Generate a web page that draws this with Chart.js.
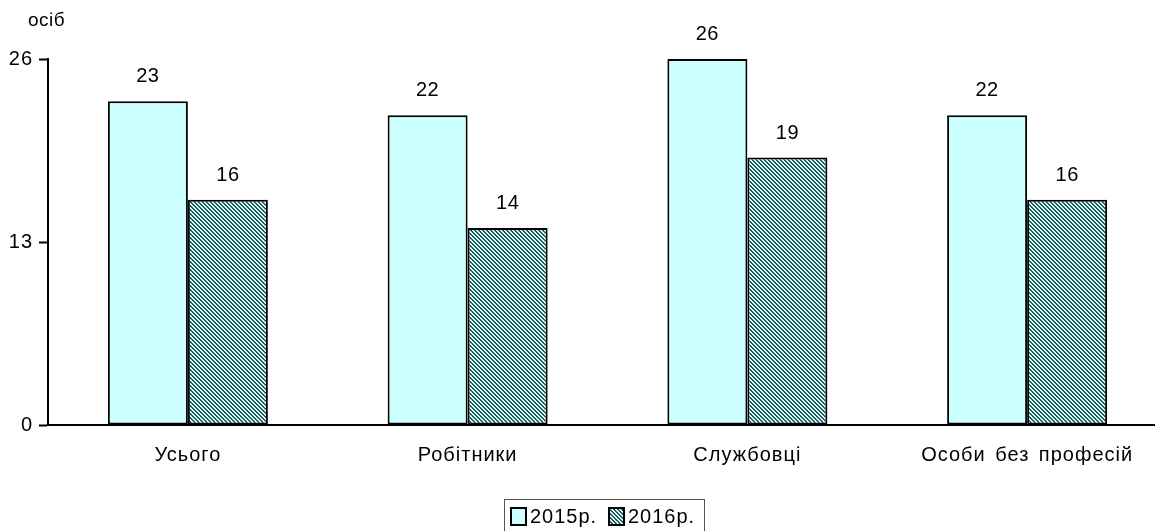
<!DOCTYPE html>
<html>
<head>
<meta charset="utf-8">
<script src="https://cdn.jsdelivr.net/npm/chart.js@4"></script>
<style>
  html, body { margin: 0; padding: 0; background: #fff; overflow: hidden; }
  #wrap { width: 1167px; height: 531px; position: relative; }
</style>
</head>
<body>
<div id="wrap"><canvas id="barChart"></canvas></div>
<script>
// chart data
const categories = ['Усього', 'Робітники', 'Службовці', 'Особи без професій'];
const seriesNames = ['2015р.', '2016р.'];
const values2015 = [23, 22, 26, 22];
const values2016 = [16, 14, 19, 16];
const yTicks = [0, 13, 26];

const FONT = '"Liberation Sans", Arial, sans-serif';

// hatched fill for the 2016 series (pixel pattern, like the old office charts)
function makeHatch() {
    const c = document.createElement('canvas');
    c.width = 4; c.height = 4;
    const g = c.getContext('2d');
    g.fillStyle = '#ccffff';
    g.fillRect(0, 0, 4, 4);
    g.fillStyle = '#2f5656';
    for (let i = 0; i < 4; i++) {
        g.fillRect(i, i, 1, 1);
        g.fillRect((i + 1) % 4, i, 1, 1);
    }
    return g.createPattern(c, 'repeat');
}
const hatch = makeHatch();

// the old chart text is a bit spaced out
const spacing = {
    id: 'spacing',
    beforeDraw(chart) {
        chart.ctx.letterSpacing = '1px';
        chart.ctx.wordSpacing = '3px';
    }
};

// value labels over the bars
const valueLabels = {
    id: 'valueLabels',
    afterDatasetsDraw(chart) {
        const ctx = chart.ctx;
        ctx.save();
        ctx.letterSpacing = '0.5px';
        ctx.font = '20px ' + FONT;
        ctx.fillStyle = '#000';
        ctx.textAlign = 'center';
        ctx.textBaseline = 'alphabetic';
        chart.data.datasets.forEach((ds, i) => {
            chart.getDatasetMeta(i).data.forEach((bar, j) => {
                ctx.fillText(String(ds.data[j]), bar.x, bar.y - 19);
            });
        });
        // unit caption
        ctx.textAlign = 'left';
        ctx.textBaseline = 'middle';
        ctx.font = '19px ' + FONT;
        ctx.fillText('осіб', 28, 21);
        ctx.restore();
    }
};

// boxed legend at the bottom
const boxLegend = {
    id: 'boxLegend',
    afterDraw(chart) {
        const ctx = chart.ctx;
        ctx.save();
        ctx.letterSpacing = '1px';
        ctx.strokeStyle = '#555';
        ctx.lineWidth = 1;
        ctx.strokeRect(504.5, 499.5, 200, 40);
        ctx.font = '20px ' + FONT;
        ctx.textBaseline = 'middle';
        ctx.textAlign = 'left';
        let x = 511;
        chart.data.datasets.forEach((ds) => {
            ctx.fillStyle = ds.backgroundColor;
            ctx.fillRect(x, 508, 15, 17);
            ctx.strokeStyle = '#000';
            ctx.lineWidth = 2;
            ctx.strokeRect(x, 508, 15, 17);
            ctx.fillStyle = '#000';
            ctx.fillText(ds.label, x + 19, 517);
            x = 609;
        });
        ctx.restore();
    }
};

const config = {
    type: 'bar',
    data: {
        labels: categories,
        datasets: [
            {
                label: seriesNames[0],
                data: values2015,
                backgroundColor: '#ccffff',
                borderColor: '#000',
                borderWidth: 2,
                borderSkipped: false
            },
            {
                label: seriesNames[1],
                data: values2016,
                backgroundColor: hatch,
                borderColor: '#000',
                borderWidth: 2,
                borderSkipped: false
            }
        ]
    },
    options: {
        responsive: true,
        maintainAspectRatio: false,
        animation: false,
        layout: { padding: { top: 59, left: 0, right: 0, bottom: 0 } },
        datasets: {
            bar: { categoryPercentage: 0.572, barPercentage: 1 }
        },
        plugins: {
            legend: { display: false },
            tooltip: { enabled: false }
        },
        scales: {
            x: {
                grid: { display: false },
                border: { display: true, color: '#000', width: 2 },
                ticks: {
                    color: '#000',
                    font: { family: FONT, size: 20 },
                    padding: 10
                },
                afterFit(scale) { scale.height = 106; }
            },
            y: {
                min: 0,
                max: 26,
                afterBuildTicks(scale) {
                    scale.ticks = yTicks.map(v => ({ value: v }));
                },
                grid: {
                    drawOnChartArea: false,
                    drawTicks: true,
                    tickLength: 9,
                    tickWidth: 2,
                    color: '#000'
                },
                border: { display: true, color: '#000', width: 2 },
                ticks: {
                    color: '#000',
                    font: { family: FONT, size: 20 },
                    padding: 6
                },
                afterFit(scale) { scale.width = 48; }
            }
        }
    },
    plugins: [spacing, valueLabels, boxLegend]
};

const ctx = document.getElementById('barChart').getContext('2d');
const myBarChart = new Chart(ctx, config);
</script>
</body>
</html>
